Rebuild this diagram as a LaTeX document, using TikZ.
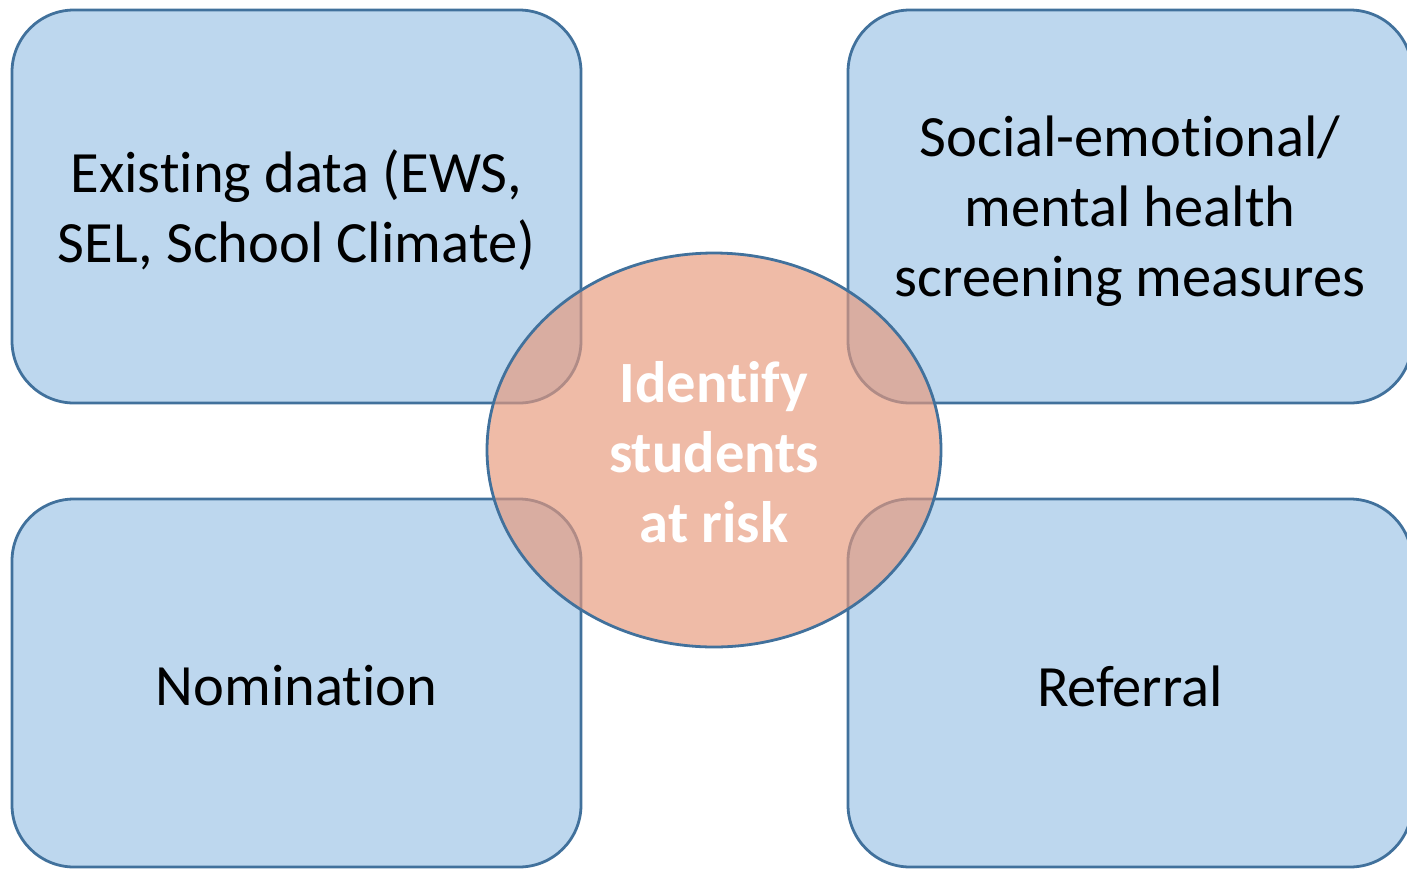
\documentclass[tikz,border=0pt]{standalone}
\usepackage{fontspec}
\setmainfont{Carlito}[Ligatures={NoCommon}]
\usetikzlibrary{shapes.geometric}
\definecolor{boxfill}{RGB}{189,215,238}
\definecolor{boxline}{RGB}{65,113,156}
\definecolor{ovalfill}{RGB}{231,153,124}
\begin{document}
\begin{tikzpicture}[x=1pt,y=-1pt,
  box/.style={draw=boxline, fill=boxfill, line width=2.8pt, rounded corners=62pt, inner sep=0pt},
  boxtext/.style={align=center, inner sep=0pt, font=\fontsize{58.5}{70}\selectfont, text=black},
  oval/.style={ellipse, draw=boxline, fill=ovalfill, fill opacity=0.67, draw opacity=1, line width=2.8pt, inner sep=0pt, minimum width=454pt, minimum height=394pt},
  ovaltext/.style={align=center, inner sep=0pt, text=white, font=\fontsize{58.5}{70}\selectfont\bfseries}]
\useasboundingbox (0,0) rectangle (1407,868);
\clip (0,0) rectangle (1407,868);
\node[box, minimum width=569pt, minimum height=393pt] (tl) at (296.5,206.5) {};
\node[box, minimum width=564pt, minimum height=393pt] (tr) at (1130,206.5) {};
\node[box, minimum width=569pt, minimum height=368pt] (bl) at (296.5,683) {};
\node[box, minimum width=564pt, minimum height=368pt] (br) at (1130,683) {};
\node[boxtext] (tlt) at ([yshift=-4pt]tl.center) {Existing data (EWS,\\SEL, School Climate)};
\node[boxtext] (trt) at ([yshift=-5pt]tr.center) {Social-emotional/\\mental health\\screening measures};
\node[boxtext] (blt) at ([yshift=-3pt]bl.center) {Nomination};
\node[boxtext] (brt) at ([yshift=-3pt]br.center) {Referral};
\node[oval] (c) at (714,450) {};
\node[ovaltext] (ct) at ([yshift=-2pt]c.center) {Identify\\students\\at risk};
\end{tikzpicture}
\end{document}
